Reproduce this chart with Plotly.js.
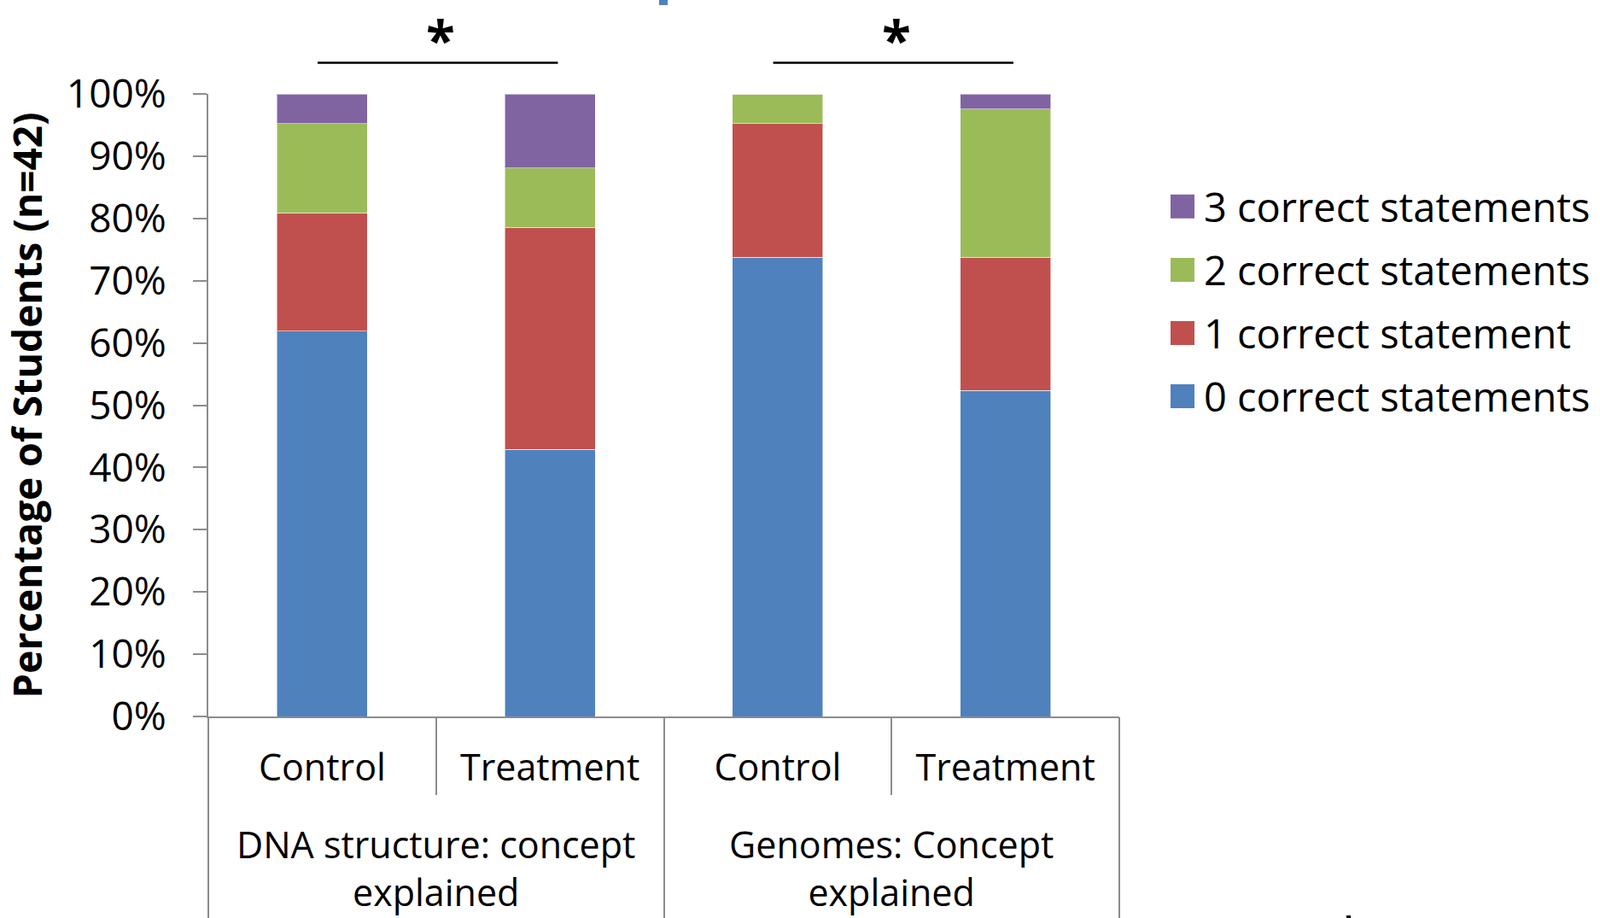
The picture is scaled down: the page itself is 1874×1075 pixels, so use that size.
<!DOCTYPE html>
<html>
<head>
<meta charset="utf-8">
<script src="https://cdn.plot.ly/plotly-3.0.1.min.js"></script>
<style>
  html, body { margin: 0; padding: 0; background: #ffffff; }
  #chart { width: 1874px; height: 1075px; }
</style>
</head>
<body>
<div id="chart"></div>
<script>
// ---------- data (percent of students, n = 42) ----------
const categories = ['Control', 'Treatment', 'Control', 'Treatment'];
const groupIndex = [0, 0, 1, 1];
const groupLabels = ['DNA structure: concept<br>explained', 'Genomes: Concept<br>explained'];
const groupKeys = ['DNA structure', 'Genomes'];
const seriesNames = ['0 correct statements', '1 correct statement', '2 correct statements', '3 correct statements'];
const zeroCorrect  = [61.9, 42.9, 73.8, 52.4];
const oneCorrect   = [19.0, 35.7, 21.4, 21.4];
const twoCorrect   = [14.3,  9.5,  4.8, 23.8];
const threeCorrect = [ 4.8, 11.9,  0.0,  2.4];
const yTickValues = [0, 10, 20, 30, 40, 50, 60, 70, 80, 90, 100];
const yTickText = ['0%', '10%', '20%', '30%', '40%', '50%', '60%', '70%', '80%', '90%', '100%'];
const significant = ['*', '*'];

// ---------- styling ----------
const seriesValues = [zeroCorrect, oneCorrect, twoCorrect, threeCorrect];
const seriesColors = ['#4f81bd', '#c0504d', '#9bbb59', '#8064a2'];
const axisGray = '#8c8c8c';
const FONT = '"Open Sans", "Noto Sans", sans-serif';

const xKeys = categories.map((c, i) => groupKeys[groupIndex[i]] + ' | ' + c);

const traces = seriesValues.map((vals, s) => ({
  type: 'bar',
  name: seriesNames[s],
  x: xKeys,
  y: vals,
  legendgroup: 'g' + s,
  legendrank: seriesValues.length - s,
  marker: { color: seriesColors[s], line: { color: 'rgba(255,255,255,0.55)', width: 1 } },
  hoverinfo: 'name+y'
}));

// boundaries between categories and between groups (category index space)
const catBounds = categories.map((_, i) => i - 0.5).concat([categories.length - 0.5]);
const groupMembers = groupKeys.map((g, gi) => groupIndex.map((v, i) => v === gi ? i : -1).filter(i => i >= 0));
const groupBounds = [-0.5].concat(groupMembers.map(idx => idx[idx.length - 1] + 0.5));
const groupCenters = groupMembers.map(idx => (idx[0] + idx[idx.length - 1]) / 2);

// empty helper traces so the overlay axes that draw the divider ticks exist
traces.push({ type: 'scatter', x: [], y: [], xaxis: 'x2', yaxis: 'y', showlegend: false, hoverinfo: 'skip' });
traces.push({ type: 'scatter', x: [], y: [], xaxis: 'x3', yaxis: 'y', showlegend: false, hoverinfo: 'skip' });

const annotations = [];
groupLabels.forEach((lab, gi) => {
  annotations.push({
    xref: 'x', yref: 'paper', x: groupCenters[gi], y: -0.244,
    xanchor: 'center', yanchor: 'middle', showarrow: false,
    text: lab, font: { family: FONT, size: 43, color: '#000' }
  });
  annotations.push({
    xref: 'x', yref: 'paper', x: groupCenters[gi] + 0.02, y: 1.148,
    xanchor: 'center', yanchor: 'top', showarrow: false,
    text: significant[gi], font: { family: FONT, size: 62, color: '#000', weight: 'bold' }
  });
});

const shapes = [];
groupMembers.forEach(idx => {
  shapes.push({
    type: 'line', xref: 'x', yref: 'paper', x0: idx[0] - 0.02, x1: idx[idx.length - 1] + 0.035, y0: 1.05, y1: 1.05,
    line: { color: '#000', width: 2.5 }
  });
});
// cropped fragments visible at the figure edges
shapes.push({ type: 'rect', xref: 'paper', yref: 'paper', x0: 0.4948, x1: 0.5042, y0: 1.1427, y1: 1.16,
  fillcolor: '#4f81bd', line: { width: 0 } });
shapes.push({ type: 'rect', xref: 'paper', yref: 'paper', x0: 1.2493, x1: 1.254, y0: -0.3237, y1: -0.3196,
  fillcolor: '#000', line: { width: 0 } });

const layout = {
  width: 1874,
  height: 1075,
  margin: { l: 244, r: 563, t: 110, b: 236, pad: 0, autoexpand: false },
  paper_bgcolor: '#ffffff',
  plot_bgcolor: '#ffffff',
  barmode: 'stack',
  bargap: 0.603,
  font: { family: FONT, color: '#000' },
  showlegend: true,
  legend: {
    x: 1.0553, xanchor: 'left', y: 0.87, yanchor: 'top',
    traceorder: 'grouped', tracegroupgap: 10,
    font: { family: FONT, size: 47, color: '#000' },
    bgcolor: 'rgba(0,0,0,0)', borderwidth: 0
  },
  xaxis: {
    type: 'category',
    categoryorder: 'array', categoryarray: xKeys,
    tickvals: xKeys, ticktext: categories,
    range: [-0.5, categories.length - 0.5],
    ticks: '', showgrid: false, zeroline: false,
    showline: true, linecolor: axisGray, linewidth: 2,
    tickfont: { family: FONT, size: 43, color: '#000' },
    ticklabelstandoff: 21,
    automargin: false, fixedrange: true
  },
  xaxis2: {
    overlaying: 'x', anchor: 'y', side: 'bottom', type: 'linear',
    range: [-0.5, categories.length - 0.5],
    tickmode: 'array', tickvals: catBounds,
    ticks: 'outside', ticklen: 91, tickwidth: 2, tickcolor: axisGray,
    showticklabels: false, showgrid: false, zeroline: false, showline: false,
    automargin: false, fixedrange: true
  },
  xaxis3: {
    overlaying: 'x', anchor: 'y', side: 'bottom', type: 'linear',
    range: [-0.5, categories.length - 0.5],
    tickmode: 'array', tickvals: groupBounds,
    ticks: 'outside', ticklen: 240, tickwidth: 2, tickcolor: axisGray,
    showticklabels: false, showgrid: false, zeroline: false, showline: false,
    automargin: false, fixedrange: true
  },
  yaxis: {
    range: [0, 100],
    tickmode: 'array', tickvals: yTickValues, ticktext: yTickText,
    ticks: 'outside', ticklen: 16, tickwidth: 2, tickcolor: axisGray,
    showline: true, linecolor: axisGray, linewidth: 2,
    showgrid: false, zeroline: false,
    tickfont: { family: FONT, size: 46, color: '#000' },
    ticklabelstandoff: 22,
    title: { text: 'Percentage of Students (n=42)', standoff: 14,
             font: { family: FONT, size: 46, color: '#000', weight: 'bold' } },
    automargin: false, fixedrange: true
  },
  annotations: annotations,
  shapes: shapes
};

function enlargeKeys() {
  // enlarge legend swatches to match the reference's large square keys
  document.querySelectorAll('#chart .legend .legendpoints path').forEach(p => {
    p.setAttribute('d', 'M9,14H-19V-14H9Z');
    p.style.strokeWidth = '0px';
  });
}

Plotly.newPlot('chart', traces, layout, { displayModeBar: false, responsive: false }).then(gd => {
  enlargeKeys();
  gd.on('plotly_afterplot', enlargeKeys);
  setTimeout(enlargeKeys, 50);
  setTimeout(enlargeKeys, 300);
});
</script>
</body>
</html>
